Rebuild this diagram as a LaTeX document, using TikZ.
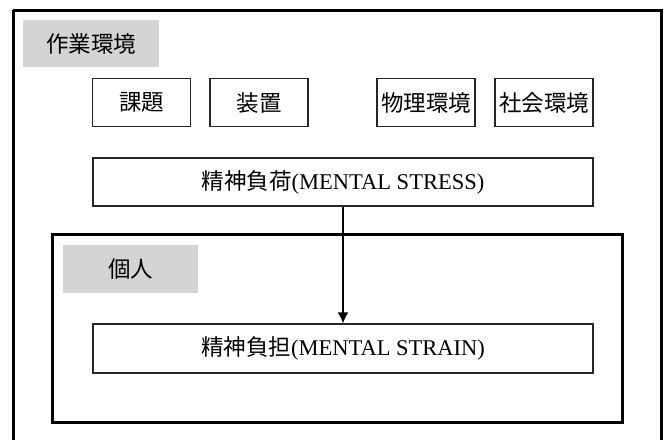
\documentclass[tikz,border=0pt]{standalone}
\usepackage{fontspec}
\usetikzlibrary{arrows.meta}
\setmainfont{Liberation Serif}
\newfontfamily\jp{Noto Sans CJK JP}
\begin{document}
\begin{tikzpicture}[x=1pt,y=-1pt,
  lbl/.style={fill=black!17,draw=none,inner sep=0pt,font=\jp\fontsize{22.5}{24}\selectfont},
  box/.style={draw=black!85,line width=1.4pt,inner sep=0pt,font=\fontsize{22.5}{24}\selectfont},
  frame/.style={draw=black,line width=3pt}]
\useasboundingbox (0,0) rectangle (669,439);
\draw[frame] (13,10) -- (661,10) -- (661,445) (13,10) -- (13,445);
\node[lbl,minimum width=136pt,minimum height=47pt] (env) at (91,43.5) {作業環境};
\node[box,minimum width=98pt,minimum height=48pt] (kadai) at (141.5,102.5) {\jp 課題};
\node[box,minimum width=98pt,minimum height=48pt] (souchi) at (259,102.5) {\jp 装置};
\node[box,minimum width=98pt,minimum height=48pt] (butsuri) at (426,102.5) {\jp 物理環境};
\node[box,minimum width=98pt,minimum height=48pt] (shakai) at (544,102.5) {\jp 社会環境};
\node[box,minimum width=500pt,minimum height=48pt] (stress) at (343,182) {{\jp 精神負荷}(MENTAL STRESS)};
\draw[frame] (52,234) rectangle (622,422);
\node[lbl,minimum width=135pt,minimum height=48pt] (kojin) at (130.5,269) {個人};
\node[box,minimum width=500pt,minimum height=49pt] (strain) at (343,348.5) {{\jp 精神負担}(MENTAL STRAIN)};
\draw[line width=1.4pt,-{Latex[length=11pt,width=11pt]}] (stress.south) -- (strain.north);
\end{tikzpicture}
\end{document}
